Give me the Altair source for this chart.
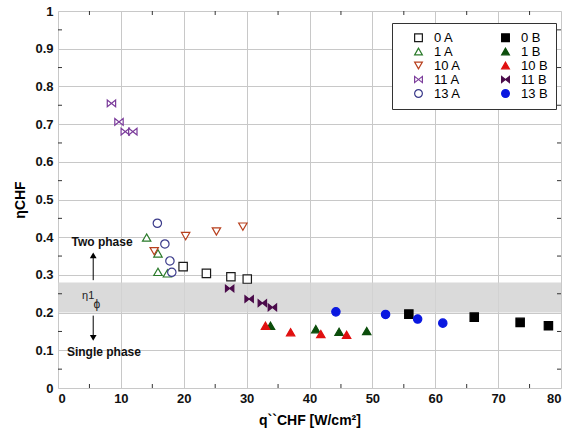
import altair as alt
import pandas as pd

# ---- data ----
series_order = ["0 A", "1 A", "10 A", "11 A", "13 A", "0 B", "1 B", "10 B", "11 B", "13 B"]

x_0A = [19.9, 23.6, 27.5, 30.1]
y_0A = [0.322, 0.304, 0.295, 0.289]
x_1A = [14.1, 15.9, 15.9, 17.4]
y_1A = [0.399, 0.357, 0.308, 0.304]
x_10A = [15.3, 20.3, 25.2, 29.4]
y_10A = [0.363, 0.403, 0.415, 0.428]
x_11A = [8.5, 9.7, 10.7, 11.9]
y_11A = [0.755, 0.706, 0.680, 0.680]
x_13A = [15.8, 17.0, 17.8, 18.1]
y_13A = [0.437, 0.382, 0.337, 0.307]

x_0B = [55.8, 66.2, 73.5, 78.0]
y_0B = [0.196, 0.188, 0.174, 0.165]
x_1B = [33.8, 41.0, 44.7, 49.1]
y_1B = [0.165, 0.156, 0.149, 0.151]
x_10B = [33.0, 37.0, 41.8, 45.9]
y_10B = [0.165, 0.148, 0.143, 0.141]
x_11B = [27.3, 30.4, 32.5, 34.1]
y_11B = [0.264, 0.236, 0.225, 0.214]
x_13B = [44.2, 52.1, 57.2, 61.2]
y_13B = [0.202, 0.195, 0.183, 0.172]

band_low = 0.20
band_high = 0.28

x_ticks = [0, 10, 20, 30, 40, 50, 60, 70, 80]
y_ticks = [0, 0.1, 0.2, 0.3, 0.4, 0.5, 0.6, 0.7, 0.8, 0.9, 1.0]
x_minor = [5, 15, 25, 35, 45, 55, 65, 75]
y_minor = [0.05, 0.15, 0.25, 0.35, 0.45, 0.55, 0.65, 0.75, 0.85, 0.95]

# ---- build table ----
series_xy = {
    "0 A": (x_0A, y_0A), "1 A": (x_1A, y_1A), "10 A": (x_10A, y_10A),
    "11 A": (x_11A, y_11A), "13 A": (x_13A, y_13A),
    "0 B": (x_0B, y_0B), "1 B": (x_1B, y_1B), "10 B": (x_10B, y_10B),
    "11 B": (x_11B, y_11B), "13 B": (x_13B, y_13B),
}
rows = []
for name, (xs, ys) in series_xy.items():
    for xv, yv in zip(xs, ys):
        rows.append({"series": name, "q": xv, "eta": yv})
df = pd.DataFrame(rows)

bowtie = "M-1,-0.8L-1,0.8L1,-0.8L1,0.8Z"
style = {
    "0 A": ("#1a1a1a", "white", "square"),
    "1 A": ("#2a7a2a", "white", "triangle-up"),
    "10 A": ("#b8401e", "white", "triangle-down"),
    "11 A": ("#7a3a9a", "white", bowtie),
    "13 A": ("#3a3a8a", "white", "circle"),
    "0 B": ("#000000", "#000000", "square"),
    "1 B": ("#0b4d0b", "#0b4d0b", "triangle-up"),
    "10 B": ("#e01010", "#e01010", "triangle-up"),
    "11 B": ("#4a0a4a", "#4a0a4a", bowtie),
    "13 B": ("#0a18e0", "#0a18e0", "circle"),
}
stroke_colors = [style[s][0] for s in series_order]
fill_colors = [style[s][1] for s in series_order]
shapes = [style[s][2] for s in series_order]

FONT = "Liberation Sans"
W, H = 503, 377

xscale = alt.Scale(domain=[0, 80], nice=False, zero=False)
yscale = alt.Scale(domain=[0, 1], nice=False, zero=False)

x_axis = alt.Axis(values=x_ticks, format="d", grid=True, ticks=False, domain=False,
                  labelFontSize=13, labelFont=FONT, labelColor="#111111", labelPadding=4,
                  labelFontWeight="bold", labelOverlap=False,
                  title="q``CHF  [W/cm²]", titleFont=FONT, titleFontSize=14,
                  titleFontWeight="bold", titleColor="black", titlePadding=8,
                  gridColor="#c8c8c8")
y_axis = alt.Axis(values=y_ticks, format="~g", grid=True, ticks=False, domain=False,
                  labelFontSize=13, labelFont=FONT, labelColor="#111111", labelPadding=5,
                  labelFontWeight="bold", labelOverlap=False,
                  title="ηCHF", titleFont=FONT, titleFontSize=14,
                  titleFontWeight="bold", titleColor="black", titlePadding=7,
                  gridColor="#c8c8c8")


def X(field):
    return alt.X(field, scale=xscale, axis=x_axis)


def Y(field):
    return alt.Y(field, scale=yscale, axis=y_axis)


band_df = pd.DataFrame({"x1": [x_ticks[0]], "x2": [x_ticks[-1]],
                        "lo": [band_low], "hi": [band_high]})
band = alt.Chart(band_df).mark_rect(color="#d4d4d4", opacity=0.85).encode(
    x=X("x1:Q"), x2="x2:Q", y=Y("lo:Q"), y2="hi:Q",
)

# minor inward ticks on the frame
xm_df = pd.DataFrame({"m": x_minor})
ym_df = pd.DataFrame({"m": y_minor})
TL = 4
tick_style = dict(color="#333333", thickness=1, size=TL, opacity=1)
xm_bottom = alt.Chart(xm_df).mark_tick(orient="vertical", **tick_style).encode(
    x=X("m:Q"), y=alt.value(H - TL / 2))
xm_top = alt.Chart(xm_df).mark_tick(orient="vertical", **tick_style).encode(
    x=X("m:Q"), y=alt.value(TL / 2))
ym_left = alt.Chart(ym_df).mark_tick(orient="horizontal", **tick_style).encode(
    y=Y("m:Q"), x=alt.value(TL / 2))
ym_right = alt.Chart(ym_df).mark_tick(orient="horizontal", **tick_style).encode(
    y=Y("m:Q"), x=alt.value(W - TL / 2))

legend = alt.Legend(title=None, orient="none", legendX=334, legendY=12, columns=2,
                    direction="vertical",
                    strokeColor="#333333", fillColor="white", padding=8,
                    labelFont=FONT, labelFontSize=13, labelColor="black",
                    symbolSize=60, symbolStrokeWidth=1.2, symbolOffset=12,
                    columnPadding=26, rowPadding=-1, labelOffset=9)
points = alt.Chart(df).mark_point(size=70, strokeWidth=1.2, opacity=1).encode(
    x=X("q:Q"),
    y=Y("eta:Q"),
    shape=alt.Shape("series:N", scale=alt.Scale(domain=series_order, range=shapes),
                    legend=legend),
    stroke=alt.Stroke("series:N", scale=alt.Scale(domain=series_order, range=stroke_colors),
                      legend=legend),
    fill=alt.Fill("series:N", scale=alt.Scale(domain=series_order, range=fill_colors),
                  legend=legend),
)

# annotations
ann_df = pd.DataFrame({
    "x": [7.0, 7.3],
    "y": [0.387, 0.095],
    "t": ["Two phase", "Single phase"],
})
ann = alt.Chart(ann_df).mark_text(font=FONT, fontSize=12, fontWeight="bold",
                                  color="#111111").encode(
    x=X("x:Q"), y=Y("y:Q"), text="t:N")

eta_df = pd.DataFrame({"x": [4.8], "y": [0.243], "t": ["η1"]})
eta_txt = alt.Chart(eta_df).mark_text(font=FONT, fontSize=11, color="#222222").encode(
    x=X("x:Q"), y=Y("y:Q"), text="t:N")
phi_df = pd.DataFrame({"x": [6.2], "y": [0.224], "t": ["ϕ"]})
phi_txt = alt.Chart(phi_df).mark_text(font=FONT, fontSize=12, color="#222222").encode(
    x=X("x:Q"), y=Y("y:Q"), text="t:N")

arrow_x = 5.6
shaft_df = pd.DataFrame({"x": [arrow_x, arrow_x], "y1": [0.286, 0.192], "y2": [0.345, 0.14]})
shafts = alt.Chart(shaft_df).mark_rule(color="black", strokeWidth=1).encode(
    x=X("x:Q"), y=Y("y1:Q"), y2="y2:Q")
up_df = pd.DataFrame({"x": [arrow_x], "y": [0.352]})
down_df = pd.DataFrame({"x": [arrow_x], "y": [0.133]})
head_up = alt.Chart(up_df).mark_point(filled=True, color="black", size=45, opacity=1,
                                      shape="triangle-up").encode(
    x=X("x:Q"), y=Y("y:Q"))
head_down = alt.Chart(down_df).mark_point(filled=True, color="black", size=45, opacity=1,
                                          shape="triangle-down").encode(
    x=X("x:Q"), y=Y("y:Q"))

chart = alt.layer(band, xm_bottom, xm_top, ym_left, ym_right, shafts, head_up, head_down,
                  ann, eta_txt, phi_txt, points).properties(
    width=W, height=H,
    autosize=alt.AutoSizeParams(type="none"),
    padding={"left": 58, "top": 11, "right": 16, "bottom": 46},
).configure_view(
    stroke="#333333", strokeWidth=1.2, fill="white"
).configure(background="white")

chart.save("out.html", embed_options={"renderer": "svg", "actions": False})
